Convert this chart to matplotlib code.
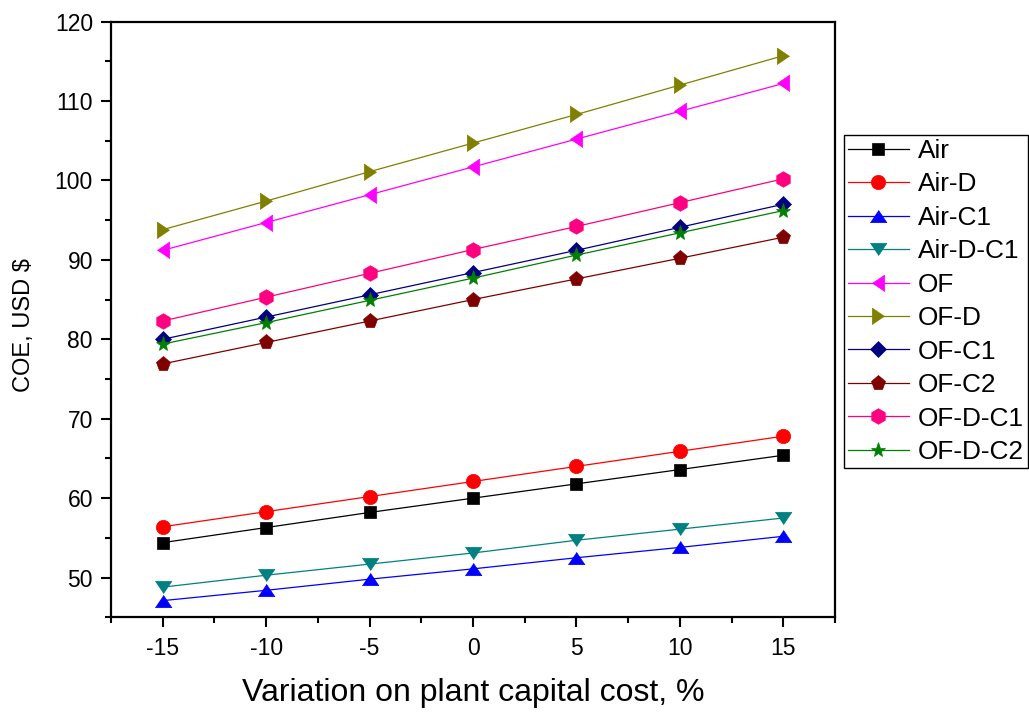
import numpy as np
import matplotlib.pyplot as plt
from matplotlib.ticker import MultipleLocator

plt.rcParams['font.family'] = ['Liberation Sans', 'DejaVu Sans']
plt.rcParams['axes.unicode_minus'] = False

variation = [-15, -10, -5, 0, 5, 10, 15]

air = [54.4, 56.3, 58.2, 60.0, 61.8, 63.6, 65.4]
air_d = [56.4, 58.3, 60.2, 62.1, 64.0, 65.9, 67.8]
air_c1 = [47.1, 48.4, 49.8, 51.1, 52.5, 53.8, 55.2]
air_d_c1 = [48.8, 50.3, 51.7, 53.1, 54.7, 56.1, 57.5]
of = [91.2, 94.7, 98.2, 101.7, 105.2, 108.7, 112.2]
of_d = [93.8, 97.4, 101.1, 104.7, 108.3, 112.0, 115.7]
of_c1 = [80.0, 82.8, 85.6, 88.4, 91.2, 94.1, 97.0]
of_c2 = [76.9, 79.6, 82.3, 85.0, 87.6, 90.2, 92.85]
of_d_c1 = [82.3, 85.3, 88.3, 91.3, 94.2, 97.2, 100.2]
of_d_c2 = [79.4, 82.1, 84.9, 87.7, 90.6, 93.4, 96.2]

# flat origin-style triangles
tri_up = [(-1, -0.74), (1, -0.74), (0, 0.74)]
tri_down = [(-1, 0.74), (1, 0.74), (0, -0.74)]
tri_left = [(0.74, -1), (0.74, 1), (-0.74, 0)]
tri_right = [(-0.74, -1), (-0.74, 1), (0.74, 0)]

series = [
    ('Air', air, 'black', 's', 8.9),
    ('Air-D', air_d, '#FF0000', 'o', 10.3),
    ('Air-C1', air_c1, '#0000FF', tri_up, 12),
    ('Air-D-C1', air_d_c1, '#008080', tri_down, 12),
    ('OF', of, '#FF00FF', tri_left, 12),
    ('OF-D', of_d, '#808000', tri_right, 12),
    ('OF-C1', of_c1, '#000080', 'D', 8.3),
    ('OF-C2', of_c2, '#800000', 'p', 11),
    ('OF-D-C1', of_d_c1, '#FF0080', 'h', 11.2),
    ('OF-D-C2', of_d_c2, '#008000', '*', 11),
]

fig = plt.figure(figsize=(10.29, 7.13), dpi=100)
ax = fig.add_axes([0.1079, 0.1342, 0.7036, 0.8356])

for name, vals, col, mk, ms in series:
    ax.plot(variation, vals, color=col, lw=0.9, marker=mk, markersize=ms,
            markerfacecolor=col, markeredgecolor=col, markeredgewidth=0.5, label=name)

ax.set_xlim(-17.5, 17.5)
ax.set_ylim(45, 120)
ax.xaxis.set_minor_locator(MultipleLocator(2.5))
ax.yaxis.set_minor_locator(MultipleLocator(5))
ax.set_xticks(variation)
ax.set_yticks([50, 60, 70, 80, 90, 100, 110, 120])

for sp in ax.spines.values():
    sp.set_linewidth(1.6)
ax.tick_params(which='both', direction='out', width=1.5, top=False, right=False)
ax.tick_params(which='major', length=7, labelsize=16.5)
ax.tick_params(axis='y', which='major', pad=6)
ax.tick_params(axis='x', which='major', pad=7.5)
ax.tick_params(which='minor', length=4)

ax.set_xlabel('Variation on plant capital cost, %', fontsize=23)
ax.set_ylabel('COE, USD $', fontsize=17)
ax.xaxis.label.set_va('center')
ax.yaxis.label.set_va('center')
ax.xaxis.set_label_coords(0.5, -0.127)
ax.yaxis.set_label_coords(-0.120, 0.49)

leg = ax.legend(loc='upper left', bbox_to_anchor=(844.3 / 1029, 1 - 135 / 713),
                bbox_transform=fig.transFigure, borderaxespad=0, fontsize=18.9,
                handlelength=2.3, handletextpad=0.35, labelspacing=0.36,
                borderpad=0.15, fancybox=False, framealpha=1)
leg.get_frame().set_edgecolor('black')
leg.get_frame().set_linewidth(1.0)

fig.savefig('out.png', dpi=100)
